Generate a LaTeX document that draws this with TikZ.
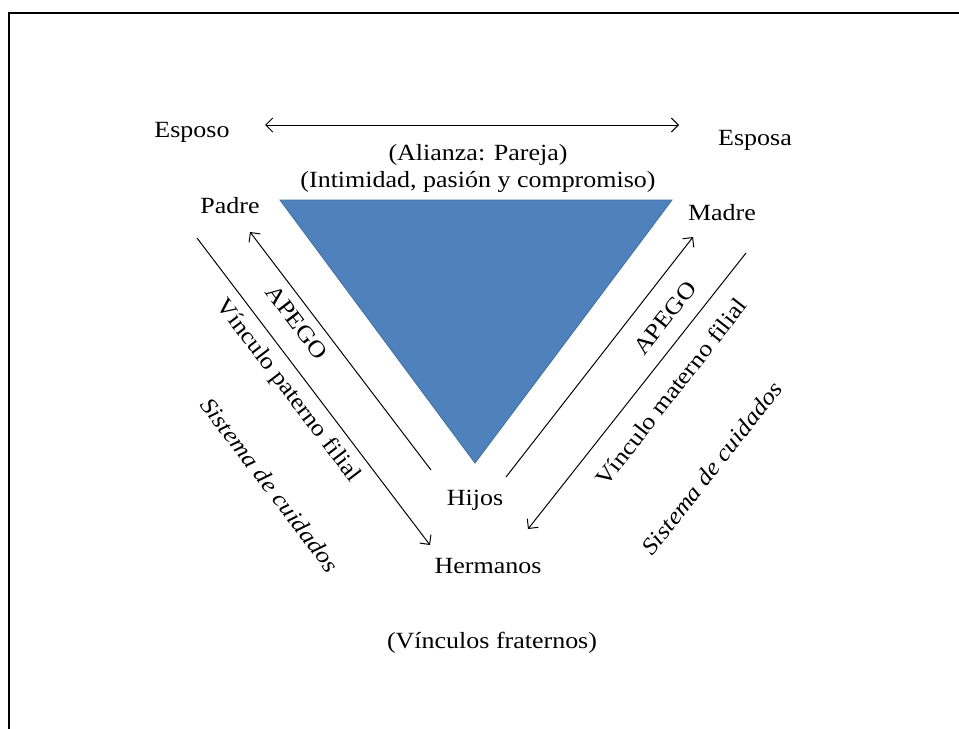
\documentclass[tikz,border=0pt]{standalone}
\usepackage{fontspec}
\setmainfont{Liberation Serif}[FakeStretch=1.12]
\usetikzlibrary{positioning,arrows.meta}
\definecolor{triblue}{HTML}{4F81BD}
\definecolor{triedge}{HTML}{41709F}
\tikzset{
  lbl/.style={font=\fontsize{16.5}{20}\selectfont, inner sep=0pt},
  slant/.style={lbl, font=\fontsize{16.5}{20}\selectfont\itshape},
  rel/.style={line width=0.7pt, black, >={Straight Barb[length=5pt,width=10pt]}}
}
\begin{document}
\begin{tikzpicture}[x=0.025cm,y=-0.025cm]
\useasboundingbox (0,0) rectangle (959,729);
\draw[line width=1.8pt] (9,729) -- (9,13) -- (959,13);

% triangulo de la pareja
\coordinate (tri-a) at (280,200);
\coordinate (tri-b) at (672,200);
\coordinate (tri-c) at (475,463);
\filldraw[fill=triblue,draw=triedge,line width=0.6pt] (tri-a) -- (tri-b) -- (tri-c) -- cycle;

\node[lbl,anchor=base] (esposo) at (192,137) {Esposo};
\node[lbl,anchor=base] (esposa) at (755,145) {Esposa};
\node[lbl,anchor=base] (alianza) at (478,160) {(Alianza: Pareja)};
\node[lbl,anchor=base] (intimidad) at (478,187) {(Intimidad, pasión y compromiso)};
\node[lbl,anchor=base] (padre) at (230,213) {Padre};
\node[lbl,anchor=base] (madre) at (722,220) {Madre};
\node[lbl,anchor=base] (hijos) at (475,505) {Hijos};
\node[lbl,anchor=base] (hermanos) at (488,573) {Hermanos};
\node[lbl,anchor=base] (fraternos) at (492,648) {(Vínculos fraternos)};

\coordinate (alz-l) at (265,125);
\coordinate (alz-r) at (679,125);
\draw[rel,<->] (alz-l) -- (alz-r);

% lado paterno
\coordinate (apl-a) at (431,470);
\coordinate (apl-b) at (250,232);
\coordinate (pat-a) at (197,238);
\coordinate (pat-b) at (430,545);
\draw[rel,->] (apl-a) -- (apl-b);
\draw[rel,->] (pat-a) -- (pat-b);
\node[lbl,rotate=-52.7] (apego-l) at (297,322) {APEGO};
\node[lbl,rotate=-52.7] (paterno) at (288,391) {Vínculo paterno filial};
\node[slant,rotate=-52.7] (cuidados-l) at (270,485) {Sistema de cuidados};

% lado materno
\coordinate (apr-a) at (506,477);
\coordinate (apr-b) at (693,237);
\coordinate (mat-a) at (746,253);
\coordinate (mat-b) at (528,529);
\draw[rel,->] (apr-a) -- (apr-b);
\draw[rel,->] (mat-a) -- (mat-b);
\node[lbl,rotate=52] (apego-r) at (665,318) {APEGO};
\node[lbl,rotate=52] (materno) at (671,392) {Vínculo materno filial};
\node[slant,rotate=52] (cuidados-r) at (712,468) {Sistema de cuidados};

\end{tikzpicture}
\end{document}
